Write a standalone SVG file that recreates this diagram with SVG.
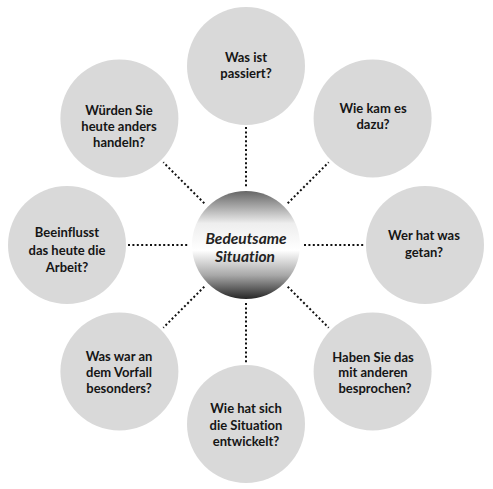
<svg xmlns="http://www.w3.org/2000/svg" width="493" height="489" viewBox="0 0 493 489">
<defs>
<linearGradient id="cg" x1="0" y1="0" x2="0" y2="1">
<stop offset="0" stop-color="#666666"/>
<stop offset="0.3" stop-color="#eeeeee"/>
<stop offset="0.55" stop-color="#ffffff"/>
<stop offset="0.78" stop-color="#a8a8a8"/>
<stop offset="1" stop-color="#262626"/>
</linearGradient>
</defs>
<style>
.n{fill:#d9d9d9}
.t{font-family:Lato,"Open Sans","Liberation Sans",sans-serif;font-weight:bold;font-size:13px;fill:#151515;text-anchor:middle;font-variant-ligatures:none}
.c{font-family:Lato,"Open Sans","Liberation Sans",sans-serif;font-weight:bold;font-style:italic;font-size:15.5px;fill:#222;text-anchor:middle;font-variant-ligatures:none}
.l{stroke:#111;stroke-width:2;stroke-dasharray:2 2.4;fill:none}
</style>
<rect width="493" height="489" fill="#fff"/>
<g id="connectors">
<line class="l" x1="246" y1="127" x2="246" y2="187"/>
<line class="l" x1="246" y1="303" x2="246" y2="363"/>
<line class="l" x1="128" y1="245" x2="188" y2="245"/>
<line class="l" x1="304" y1="245" x2="364" y2="245"/>
<line class="l" x1="287.7" y1="203.3" x2="328.7" y2="162.3"/>
<line class="l" x1="287.7" y1="286.7" x2="328.7" y2="327.7"/>
<line class="l" x1="204.3" y1="286.7" x2="163.3" y2="327.7"/>
<line class="l" x1="204.3" y1="203.3" x2="163.3" y2="162.3"/>
</g>
<g id="center">
<circle cx="246" cy="245" r="54" fill="url(#cg)"/>
<text class="c" x="246" y="244">Bedeutsame</text>
<text class="c" x="245" y="262">Situation</text>
</g>
<g id="n-top">
<circle class="n" cx="246" cy="66" r="59"/>
<text class="t" x="246" y="62">Was ist</text>
<text class="t" x="246" y="78">passiert?</text>
</g>
<g id="n-topright">
<circle class="n" cx="372.6" cy="118.4" r="59"/>
<text class="t" x="373" y="113">Wie kam es</text>
<text class="t" x="373" y="129">dazu?</text>
</g>
<g id="n-right">
<circle class="n" cx="425" cy="245" r="59"/>
<text class="t" x="424" y="240">Wer hat was</text>
<text class="t" x="424" y="257">getan?</text>
</g>
<g id="n-bottomright">
<circle class="n" cx="372.6" cy="371.6" r="59"/>
<text class="t" x="373" y="362">Haben Sie das</text>
<text class="t" x="373" y="377">mit anderen</text>
<text class="t" x="375" y="393">besprochen?</text>
</g>
<g id="n-bottom">
<circle class="n" cx="246" cy="424" r="59"/>
<text class="t" x="246" y="413">Wie hat sich</text>
<text class="t" x="246" y="430">die Situation</text>
<text class="t" x="246" y="446">entwickelt?</text>
</g>
<g id="n-bottomleft">
<circle class="n" cx="119.4" cy="371.6" r="59"/>
<text class="t" x="119" y="361">Was war an</text>
<text class="t" x="119" y="377">dem Vorfall</text>
<text class="t" x="119" y="393">besonders?</text>
</g>
<g id="n-left">
<circle class="n" cx="67" cy="245" r="59"/>
<text class="t" x="67" y="237">Beeinflusst</text>
<text class="t" x="67" y="255">das heute die</text>
<text class="t" x="67" y="272">Arbeit?</text>
</g>
<g id="n-topleft">
<circle class="n" cx="119.4" cy="118.4" r="59"/>
<text class="t" x="119" y="115">Würden Sie</text>
<text class="t" x="119" y="131">heute anders</text>
<text class="t" x="119" y="147">handeln?</text>
</g>
</svg>
